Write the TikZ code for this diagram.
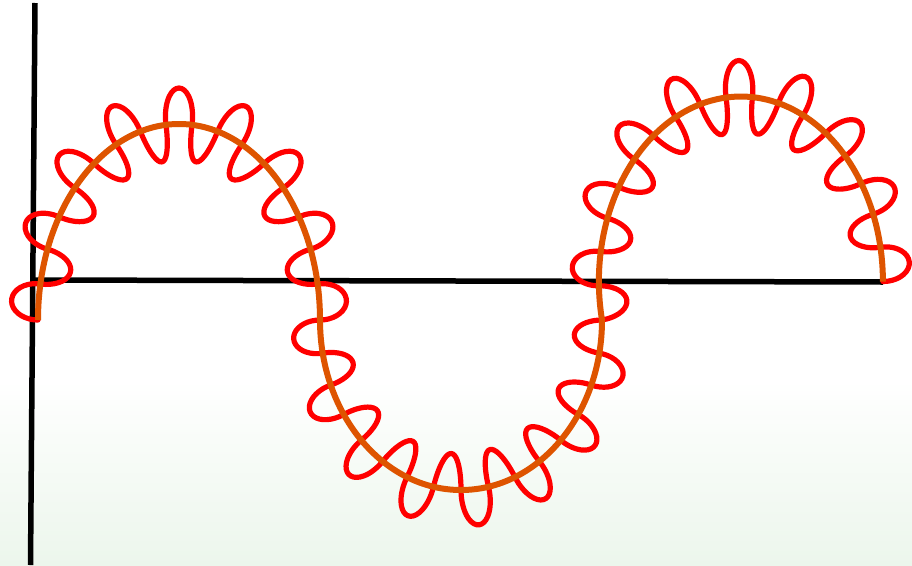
\documentclass[tikz,border=0pt]{standalone}
\usepackage{xcolor}
\usepackage{tikz}

\definecolor{wavecol}{RGB}{222,84,0}
\definecolor{bggreen}{RGB}{236,246,236}

\begin{document}
\begin{tikzpicture}[x=10pt, y=10pt,
  axisline/.style={draw=black, line width=5.5pt},
  wave/.style={draw=wavecol, line width=6pt},
  coilline/.style={draw=red, line width=5.2pt, line cap=round, line join=round},
  declare function={
    spd(\t)=veclen(\rx*sin(\t),\ry*cos(\t));
    ph(\t)=180*\po+\kk*abs(\t-\ta);
    fa(\t)=(pi/(2*\kk))*(1-cos(mod(ph(\t),180))-mod(ph(\t),180)/90);
    pa(\t)=(2.7+0.9*sin(\t)^2)*sin(ph(\t));
  }]
% background
\fill[white] (0,0) rectangle (91.2,-56.5);
\shade[top color=white, bottom color=bggreen] (0,-38) rectangle (91.2,-56.5);
\useasboundingbox (0,0) rectangle (91.2,-56.5);
% axes
\coordinate (ytop) at (3.5,-0.3);
\coordinate (ybot) at (3.05,-56.5);
\coordinate (xleft) at (3.3,-28);
\coordinate (xright) at (88.3,-28.2);
\draw[axisline] (ytop) -- (ybot);
\draw[axisline] (xleft) -- (xright);
% coil, one piece per half ellipse
\foreach \cx/\cy/\rx/\ry/\ta/\tb/\dd/\kk/\po in {
    17.9/-32/14.1/19.6/180/0/-1/17/0,
    46.1/-32/14.1/17/180/360/1/16/17,
    74.09/-28.15/14.2/18.5/192/0/-1/16.875/33}
  \draw[coilline] plot[domain=\ta:\tb, samples=321, smooth, variable=\t]
    ({\cx+\rx*cos(\t)+fa(\t)*(\dd)*(-\rx*sin(\t))-pa(\t)*(\dd)*\ry*cos(\t)/spd(\t)},
     {\cy+\ry*sin(\t)+fa(\t)*(\dd)*(\ry*cos(\t))-pa(\t)*(\dd)*\rx*sin(\t)/spd(\t)});
% wave
\coordinate (start) at (3.8,-32);
\path[wave] (start) arc[start angle=180, end angle=0, x radius=141pt, y radius=196pt]
  arc[start angle=180, end angle=360, x radius=141pt, y radius=170pt]
  arc[start angle=192, end angle=0, x radius=142pt, y radius=185pt];
\end{tikzpicture}
\end{document}
